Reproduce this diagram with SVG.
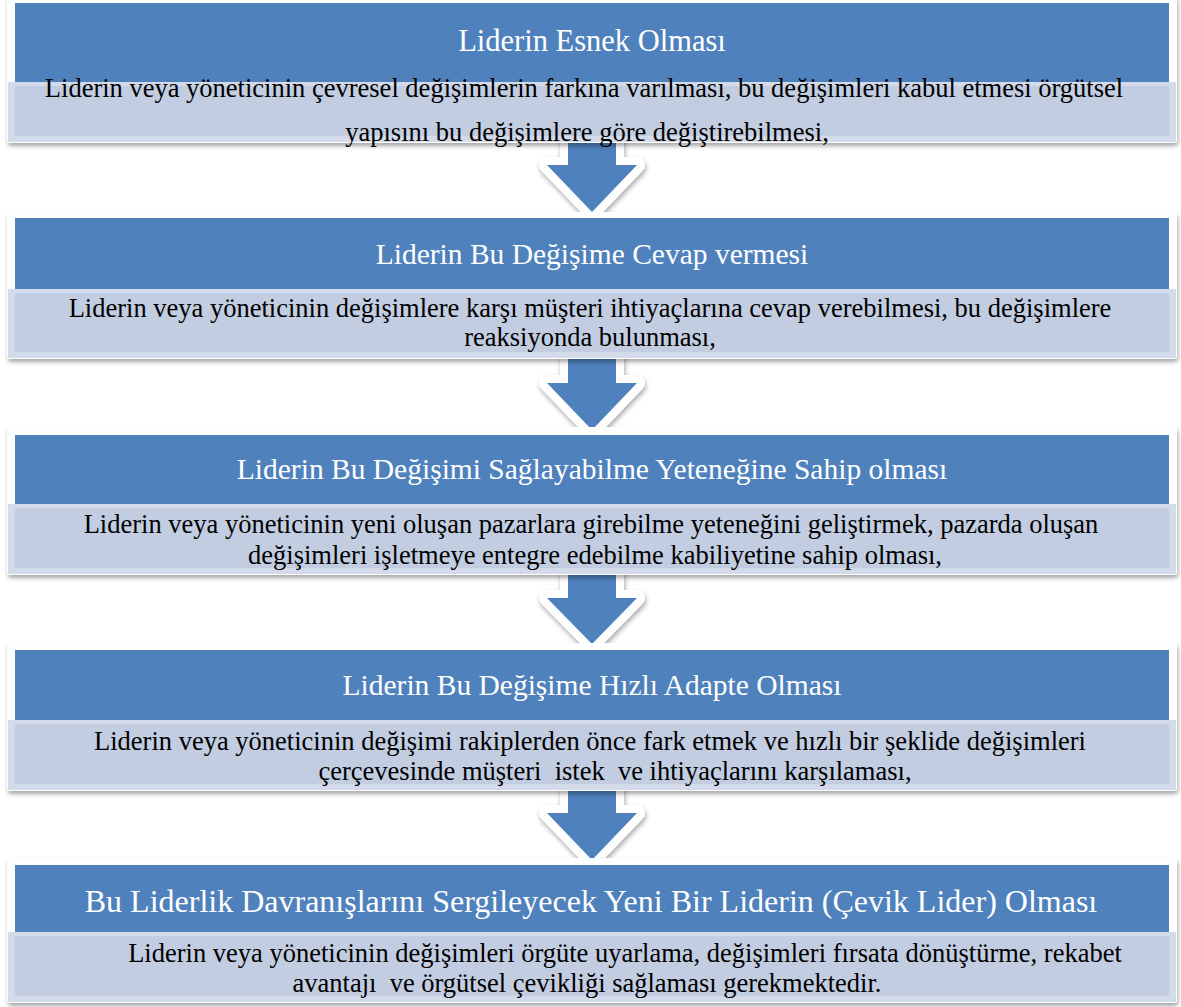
<svg xmlns="http://www.w3.org/2000/svg" width="1181" height="1007" viewBox="0 0 1181 1007">
<defs>
<filter id="sh" x="-5%" y="-20%" width="110%" height="150%">
<feDropShadow dx="1" dy="3" stdDeviation="2.2" flood-color="#000" flood-opacity="0.35"/>
</filter>
<filter id="ash" x="-30%" y="-30%" width="160%" height="160%">
<feDropShadow dx="1" dy="3" stdDeviation="2.5" flood-color="#000" flood-opacity="0.35"/>
</filter>
</defs>
<style>
.panel{fill:#ffffff;filter:url(#sh)}
.hdr{fill:#4F81BD}
.lo{fill:#D3DAEA}
.li{fill:#C2CDE1}
.arr{fill:#4F81BD;stroke:#ffffff;stroke-width:16;stroke-linejoin:round;paint-order:stroke;filter:url(#ash)}
.t{font-family:"Liberation Serif","Times New Roman",serif;fill:#ffffff;font-size:29.5px;text-anchor:middle}
.b{font-family:"Liberation Serif","Times New Roman",serif;fill:#000000;font-size:26.5px;text-anchor:middle;white-space:pre}
</style>
<rect width="1181" height="1007" fill="#ffffff"/>
<g id="connectors">
<path class="arr" d="M568,130 H616 V165 H637 L592,212 L547,165 H568 Z"/>
<path class="arr" d="M568,348 H616 V383 H637 L592,430 L547,383 H568 Z"/>
<path class="arr" d="M568,564 H616 V598 H637 L592,644 L547,598 H568 Z"/>
<path class="arr" d="M568,780 H616 V813 H637 L592,860 L547,813 H568 Z"/>
</g>
<g id="node1">
<rect class="panel" x="7" y="-4" width="1170" height="147" rx="3"/>
<rect class="hdr" x="15" y="3" width="1154" height="79"/>
<rect class="lo" x="8" y="82" width="1168" height="60"/>
<rect class="li" x="15" y="86" width="1154" height="50"/>
<text class="t" x="592" y="51" style="font-size:30.5px">Liderin Esnek Olması</text>
<text class="b" x="584" y="97">Liderin veya yöneticinin çevresel değişimlerin farkına varılması, bu değişimleri kabul etmesi örgütsel</text>
<text class="b" x="587" y="141">yapısını bu değişimlere göre değiştirebilmesi,</text>
</g>
<g id="node2">
<rect class="panel" x="7" y="212" width="1170" height="147" rx="3"/>
<rect class="hdr" x="15" y="218" width="1154" height="71"/>
<rect class="lo" x="8" y="289" width="1168" height="69"/>
<rect class="li" x="15" y="293" width="1154" height="59"/>
<text class="t" x="592" y="264">Liderin Bu Değişime Cevap vermesi</text>
<text class="b" x="590" y="317">Liderin veya yöneticinin değişimlere karşı müşteri ihtiyaçlarına cevap verebilmesi, bu değişimlere</text>
<text class="b" x="590" y="346">reaksiyonda bulunması,</text>
</g>
<g id="node3">
<rect class="panel" x="7" y="427" width="1170" height="148" rx="3"/>
<rect class="hdr" x="15" y="435" width="1154" height="69"/>
<rect class="lo" x="8" y="504" width="1168" height="70"/>
<rect class="li" x="15" y="508" width="1154" height="60"/>
<text class="t" x="592" y="479">Liderin Bu Değişimi Sağlayabilme Yeteneğine Sahip olması</text>
<text class="b" x="591" y="533">Liderin veya yöneticinin yeni oluşan pazarlara girebilme yeteneğini geliştirmek, pazarda oluşan</text>
<text class="b" x="595" y="564">değişimleri işletmeye entegre edebilme kabiliyetine sahip olması,</text>
</g>
<g id="node4">
<rect class="panel" x="7" y="643" width="1170" height="148" rx="3"/>
<rect class="hdr" x="15" y="650" width="1154" height="70"/>
<rect class="lo" x="8" y="720" width="1168" height="70"/>
<rect class="li" x="15" y="724" width="1154" height="60"/>
<text class="t" x="592" y="695">Liderin Bu Değişime Hızlı Adapte Olması</text>
<text class="b" x="590" y="750">Liderin veya yöneticinin değişimi rakiplerden önce fark etmek ve hızlı bir şeklide değişimleri</text>
<text class="b" x="615" y="780">çerçevesinde müşteri  istek  ve ihtiyaçlarını karşılaması,</text>
</g>
<g id="node5">
<rect class="panel" x="7" y="858" width="1170" height="145" rx="3"/>
<rect class="hdr" x="15" y="865" width="1154" height="67"/>
<rect class="lo" x="8" y="932" width="1168" height="70"/>
<rect class="li" x="15" y="936" width="1154" height="60"/>
<text class="t" x="591" y="912" style="font-size:32px">Bu Liderlik Davranışlarını Sergileyecek Yeni Bir Liderin (Çevik Lider) Olması</text>
<text class="b" x="625" y="962">Liderin veya yöneticinin değişimleri örgüte uyarlama, değişimleri fırsata dönüştürme, rekabet</text>
<text class="b" x="587" y="992">avantajı  ve örgütsel çevikliği sağlaması gerekmektedir.</text>
</g>
</svg>
